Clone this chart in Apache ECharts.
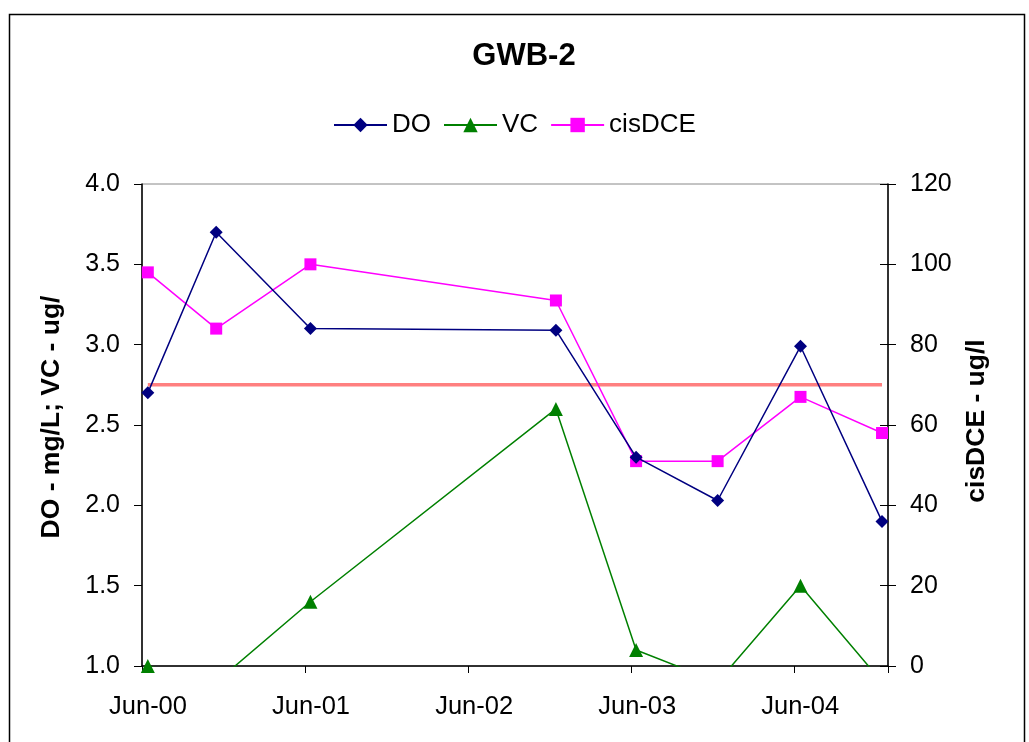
<!DOCTYPE html>
<html>
<head>
<meta charset="utf-8">
<script src="https://cdn.jsdelivr.net/npm/echarts@6/dist/echarts.min.js"></script>
<style>
html,body{margin:0;padding:0;background:#fff;}
#c{width:1029px;height:742px;}
</style>
</head>
<body>
<div id="c"></div>
<script>
// ---- data ----
const sampleDates = ['2000-06-14','2000-11-15','2001-06-13','2002-12-15','2003-06-12','2003-12-12','2004-06-15','2004-12-15'];
const doValues = [2.7, 3.7, 3.1, 3.09, 2.3, 2.03, 2.99, 1.9];
const vcValues = [1.0, 0.9, 1.4, 2.6, 1.1, 0.9, 1.5, 0.9];
const cisDCEValues = [98, 84, 100, 91, 51, 51, 67, 58];
const mclValue = 70;
const xTickLabels = ['Jun-00','Jun-01','Jun-02','Jun-03','Jun-04'];
const leftAxisTitle = 'DO - mg/L; VC - ug/';
const rightAxisTitle = 'cisDCE - ug/l';

// months since 1 Jun 2000
function monthsSince(d){
  const [y,m,day] = d.split('-').map(Number);
  return (y-2000)*12 + (m-6) + (day-1)/30.4;
}
const xs = sampleDates.map(monthsSince);
const pair = vals => xs.map((x,i)=>[x, vals[i]]);

const font = '"Liberation Sans", Arial, sans-serif';
const chart = echarts.init(document.getElementById('c'));
chart.setOption({
  backgroundColor:'#fff',
  animation:false,
  title:{
    text:'GWB-2', left:519, top:36, textAlign:'center',
    textStyle:{fontFamily:font,fontSize:31,fontWeight:'bold',color:'#000'}
  },
  legend:{
    data:['DO','VC','cisDCE'],
    left:328, top:107,
    itemWidth:53, itemHeight:18, itemGap:12,
    textStyle:{fontFamily:font,fontSize:26,color:'#000'}
  },
  graphic:[{
    type:'rect', silent:true, z:-1,
    shape:{x:9.5,y:14.5,width:1015,height:800},
    style:{fill:'none',stroke:'#000',lineWidth:1.5}
  },{
    type:'text', silent:true, x:52, y:417, rotation:Math.PI/2,
    style:{text:leftAxisTitle, font:'bold 26.5px '+font, fill:'#000', align:'center', verticalAlign:'middle'}
  },{
    type:'text', silent:true, x:977, y:421, rotation:Math.PI/2,
    style:{text:rightAxisTitle, font:'bold 26.5px '+font, fill:'#000', align:'center', verticalAlign:'middle'}
  }],
  grid:{left:142,right:141,top:184,bottom:76,show:true,borderColor:'#888',borderWidth:1,backgroundColor:'#fff'},
  xAxis:{
    type:'value', min:0, max:54.9, interval:12,
    axisLine:{show:true,onZero:false,lineStyle:{color:'#000',width:1.5}},
    axisTick:{show:true,inside:false,length:7,lineStyle:{color:'#000',width:1}},
    splitLine:{show:false},
    axisLabel:{
      margin:28, padding:[0,0,0,12],
      fontFamily:font,fontSize:25.5,color:'#000',
      formatter:v=>xTickLabels[Math.round(v/12)] || ''
    }
  },
  yAxis:[{
    type:'value', position:'left', min:1, max:4, interval:0.5,
    axisLine:{show:true,lineStyle:{color:'#000',width:1.5}},
    axisTick:{show:true,inside:false,length:8,lineStyle:{color:'#000'}},
    splitLine:{show:false},
    axisLabel:{margin:22,padding:[5,0,0,0],fontFamily:font,fontSize:25,color:'#000',formatter:v=>v.toFixed(1)}
  },{
    type:'value', position:'right', min:0, max:120, interval:20,
    axisLine:{show:true,lineStyle:{color:'#000',width:1.5}},
    axisTick:{show:true,inside:false,length:8,lineStyle:{color:'#000'}},
    splitLine:{show:false},
    axisLabel:{margin:22,padding:[4,0,0,0],fontFamily:font,fontSize:25,color:'#000'}
  },{
    type:'value', position:'right', min:0, max:120, interval:20,
    axisLine:{show:false},
    axisTick:{show:true,inside:true,length:8,lineStyle:{color:'#000'}},
    splitLine:{show:false},
    axisLabel:{show:false}
  }],
  series:[{
    name:'MCL', type:'line', yAxisIndex:1, symbol:'none',
    data:[[xs[0],mclValue],[xs[xs.length-1],mclValue]],
    lineStyle:{color:'#FF8080',width:3.5}, itemStyle:{color:'#FF8080'}, z:1
  },{
    name:'DO', type:'line', yAxisIndex:0, data:pair(doValues),
    symbol:'diamond', symbolSize:13,
    lineStyle:{color:'#000080',width:1.5}, itemStyle:{color:'#000080'}, z:3
  },{
    name:'VC', type:'line', yAxisIndex:0, data:pair(vcValues), clip:true,
    symbol:'triangle', symbolSize:14,
    lineStyle:{color:'#008000',width:1.5}, itemStyle:{color:'#008000'}, z:3
  },{
    name:'cisDCE', type:'line', yAxisIndex:1, data:pair(cisDCEValues),
    symbol:'rect', symbolSize:12,
    lineStyle:{color:'#FF00FF',width:1.5}, itemStyle:{color:'#FF00FF'}, z:2
  }]
});
</script>
</body>
</html>
